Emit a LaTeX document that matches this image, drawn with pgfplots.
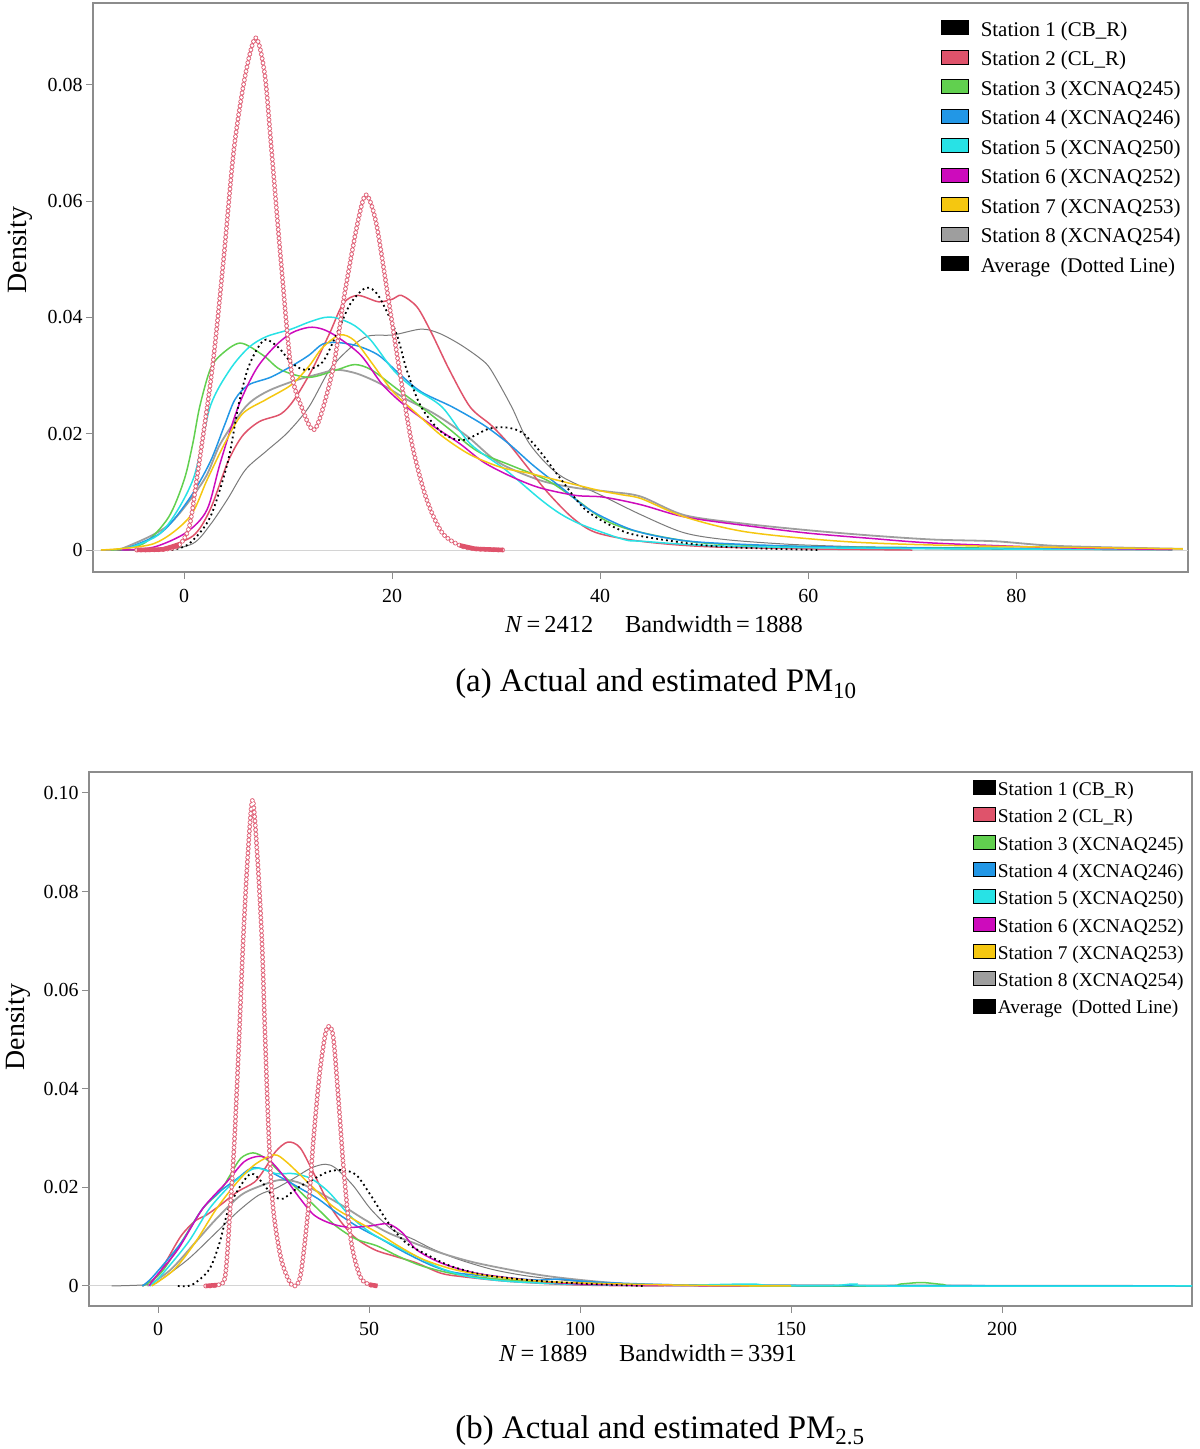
\documentclass[border=0pt]{standalone}
\usepackage{fontspec}
\setmainfont{Liberation Serif}
\usepackage{pgfplots}
\pgfplotsset{compat=1.18}
\definecolor{c2}{HTML}{DF536B}
\definecolor{c3}{HTML}{61D04F}
\definecolor{c4}{HTML}{2297E6}
\definecolor{c5}{HTML}{28E2E5}
\definecolor{c6}{HTML}{CD0BBC}
\definecolor{c7}{HTML}{F5C710}
\definecolor{c8}{HTML}{9E9E9E}
\definecolor{dg}{HTML}{7A7A7A}
\definecolor{circ}{HTML}{E06479}
\definecolor{frame}{HTML}{8C8C8C}
\definecolor{zl}{HTML}{D4D4D4}
\pgfplotsset{
 dens/.style={
  scale only axis, axis line style={frame, line width=1.3bp},
  tick style={frame, line width=1bp}, major tick length=7bp, tick align=outside,
  xtick pos=bottom, ytick pos=left,
  ticklabel style={font=\fontsize{20}{24}\selectfont},
  /pgf/number format/assume math mode=true,
  scaled y ticks=false,
  legend cell align=left,
 },
 ln/.style={forget plot, smooth, tension=0.5, line width=1.5bp},
 ringo/.style={forget plot, smooth, tension=0.5, circ, line width=4.8bp, line cap=round, dash pattern=on 0bp off 4.4bp},
 ringi/.style={forget plot, smooth, tension=0.5, white, line width=3.3bp, line cap=round, dash pattern=on 0bp off 4.4bp},
 ringb/.style={forget plot, c2, line width=4.5bp, restrict y to domain=-1:0.0009, unbounded coords=jump},
}
\pgfplotstableread{
x y
-4.55 0
-2 0.0001
-0.5 0.0008
0.5 0.004
1.2 0.0119
2.7 0.031
3.8 0.050
4.8 0.069
5.9 0.0818
6.9 0.0881
7.76 0.0818
8.4 0.069
9.3 0.050
10.3 0.031
11.3 0.0246
12.6 0.0208
14.3 0.031
15.4 0.0437
16.7 0.0564
17.5 0.0611
18.45 0.0564
19.6 0.0437
20.7 0.031
21.9 0.0183
23.3 0.0088
24.8 0.003
26.5 0.0008
28 0.0002
30.7 0
}\circA
\pgfplotstableread{
x y
11.3 0
14 0.0002
15.9 0.0019
17.1 0.0156
18.1 0.0294
19.2 0.05
20.2 0.0705
21.3 0.0877
22.4 0.0986
23.5 0.0877
24.6 0.0705
25.4 0.05
26.3 0.0294
27.3 0.0156
29.2 0.0054
31.7 0.0002
33.7 0.0019
35.6 0.0156
36.8 0.0294
38.3 0.0431
39.7 0.0513
40.6 0.0527
41.6 0.05
42.9 0.0362
44.1 0.0225
45.8 0.0088
47.9 0.0019
50 0.0003
52 0
}\circB
\begin{document}
\begin{tikzpicture}
\path[use as bounding box] (0,0) rectangle (1200bp,1449bp);
% ---------------- (a) PM10 ----------------
\begin{axis}[dens, at={(93bp,877bp)}, anchor=south west, width=1095bp, height=569bp,
  xmin=-8.75, xmax=96.5, ymin=-0.00378, ymax=0.0941,
  xtick={0,20,40,60,80}, ytick={0,0.02,0.04,0.06,0.08}, yticklabels={0,0.02,0.04,0.06,0.08},
  xticklabel style={yshift=-7bp},
  legend style={at={(0.7744,0.970)}, anchor=north west, draw=none, fill=none, inner sep=0pt,
    row sep=12.1bp, font=\fontsize{21}{25}\selectfont, nodes={inner sep=0pt}},
  legend image code/.code={\draw[#1, draw=black, line width=0.8bp] (0bp,-5bp) rectangle (27bp,9bp); \path (39bp,0bp);},
]
\addplot[forget plot, zl, line width=1bp] coordinates {(-20,0) (120,0)};
% Station 1 (dark grey thin)
\addplot[ln, dg, line width=1bp] coordinates {(-8,0) (-2.2,0) (0.84,0.0011) (2.5,0.0043) (4.2,0.0088) (5.9,0.0138) (7.9,0.017) (9.95,0.0202) (12.0,0.0246) (14.0,0.031) (16.0,0.0348) (17.7,0.0368) (20.1,0.037) (22.8,0.038) (24.5,0.0373) (26.5,0.0354) (28.5,0.0329) (29.5,0.031) (31.5,0.0246) (33.2,0.0183) (36,0.013) (40,0.0095) (44,0.006) (48,0.003) (52,0.0018) (58,0.001) (64,0.0006) (72,0.0002) (95,0)};
% Station 8 (light grey)
\addplot[ln, c8, line width=1.8bp] coordinates {(-7,0) (-5.6,0.0005) (-1.5,0.0043) (1.9,0.012) (3.5,0.0183) (5.9,0.0246) (7.9,0.0272) (10.6,0.0291) (13.0,0.0303) (14.7,0.031) (16.7,0.0303) (19.1,0.0284) (21.4,0.0259) (24.1,0.0234) (27.2,0.0196) (30.2,0.0151) (34.2,0.012) (37.6,0.0107) (41.0,0.01) (43.9,0.0092) (48.1,0.006) (54,0.0045) (60,0.0034) (66,0.0025) (72,0.0018) (78,0.0015) (84,0.0007) (96,0.0002)};
% Station 2 actual (red)
\addplot[ln, c2] coordinates {(-4,0) (-2.2,0.0003) (0.84,0.0024) (2.5,0.0069) (4.2,0.0151) (5.6,0.0196) (7.25,0.0221) (9.3,0.0234) (10.6,0.0259) (12.3,0.031) (14.0,0.0373) (15.3,0.0424) (16.7,0.0438) (18.7,0.0427) (20.1,0.0432) (20.9,0.0438) (22.4,0.0418) (23.8,0.0373) (25.5,0.031) (27.5,0.0246) (29.5,0.0215) (31.2,0.0183) (32.9,0.0145) (34.9,0.01) (37.3,0.0056) (39.6,0.003) (43.9,0.0015) (50,0.0006) (60,0.0002) (70,0)};
% Station 3 (green)
\addplot[ln, c3] coordinates {(-7,0) (-3.9,0.0011) (-1.5,0.0056) (0,0.012) (0.84,0.0183) (1.5,0.0246) (2.5,0.031) (3.5,0.0335) (5.4,0.0356) (7.6,0.0335) (9.3,0.031) (12.0,0.0297) (14.7,0.031) (16.4,0.0319) (18.0,0.031) (20.4,0.0278) (22.8,0.0246) (25.5,0.0208) (28.2,0.017) (31.5,0.0145) (34.9,0.012) (37.6,0.0088) (40.6,0.005) (44,0.003) (50,0.0012) (60,0.0006) (80,0.0003) (95,0.0001)};
% Station 4 (blue)
\addplot[ln, c4] coordinates {(-6,0) (-2.2,0.003) (0.5,0.0088) (2.5,0.0151) (3.9,0.0215) (4.9,0.0259) (6.2,0.0284) (8.3,0.0297) (10.3,0.0316) (12.0,0.0335) (13.3,0.0354) (14.7,0.0357) (16.7,0.0351) (18.7,0.0335) (20.7,0.0303) (22.8,0.0272) (25.8,0.0246) (28.8,0.0215) (31.2,0.0183) (33.6,0.0145) (36.3,0.0107) (39.0,0.0069) (42.7,0.0037) (46,0.0022) (50,0.0013) (60,0.0006) (75,0.0003) (95,0.0001)};
% Station 5 (cyan)
\addplot[ln, c5] coordinates {(-6,0) (-2.2,0.003) (0.84,0.012) (2.5,0.0246) (4.4,0.031) (6.2,0.0348) (7.9,0.0367) (10.3,0.038) (12.0,0.0392) (13.5,0.040) (14.7,0.0399) (16.4,0.0386) (18.0,0.036) (20.1,0.031) (22.1,0.0278) (24.8,0.0246) (27.5,0.0183) (30.9,0.0138) (34.2,0.0088) (36.2,0.0062) (38.3,0.0043) (42.3,0.0018) (44.1,0.0015) (50,0.0008) (60,0.0004) (75,0.0002) (95,0.0001)};
% Station 6 (magenta)
\addplot[ln, c6] coordinates {(-6,0) (-2.9,0.0005) (0.2,0.003) (2.2,0.0069) (3.5,0.0151) (5.2,0.0246) (6.9,0.031) (8.6,0.0348) (10.3,0.0373) (12.0,0.0383) (13.3,0.038) (14.7,0.0367) (17.0,0.0335) (19.1,0.0284) (21.4,0.0246) (23.8,0.0215) (26.5,0.0183) (28.8,0.0151) (31.5,0.0126) (34.2,0.0107) (37.6,0.0094) (40.3,0.0091) (43.9,0.0078) (48.1,0.0057) (54,0.0042) (60,0.0029) (66,0.002) (72,0.0012) (84,0.0004) (95,0.0001)};
% Station 7 (yellow)
\addplot[ln, c7] coordinates {(-8,0) (-2.9,0.0011) (0.5,0.0056) (2.2,0.012) (3.9,0.0183) (5.6,0.0234) (7.9,0.0259) (10.3,0.0284) (12.0,0.0316) (13.3,0.0348) (15.0,0.037) (16.4,0.036) (18.0,0.0323) (20.1,0.0272) (22.4,0.0234) (24.8,0.0196) (27.5,0.0164) (30.5,0.0142) (33.2,0.0132) (35.9,0.012) (40.0,0.0102) (42.1,0.0095) (44,0.0088) (48.1,0.0057) (54.1,0.0031) (64,0.0014) (76,0.0007) (96,0.0002)};
% Average (dotted)
\addplot[ln, black, line width=1.8bp, dash pattern=on 1.8bp off 3.2bp] coordinates {(-1.2,0) (0.5,0.0011) (2.5,0.0056) (4.2,0.0151) (5.2,0.0246) (6.1,0.031) (7.1,0.0348) (7.9,0.0362) (9.1,0.0348) (10.3,0.0323) (11.6,0.031) (13.3,0.0323) (14.7,0.0373) (16.0,0.0424) (17.5,0.0451) (18.7,0.0437) (20.4,0.0373) (21.4,0.031) (22.8,0.0246) (24.8,0.0202) (26.8,0.0189) (29.2,0.0208) (30.9,0.0211) (32.5,0.0202) (34.2,0.017) (36.3,0.012) (38.6,0.0069) (41.6,0.0037) (43.9,0.0024) (50,0.0008) (55,0.0003) (61,0)};
% Station 2 estimated (rings)
\addplot[ringo] table {\circA};
\addplot[ringi] table {\circA};
\addplot[ringb] table {\circA};
\addlegendimage{fill=black}\addlegendentry{Station 1 (CB\_R)}
\addlegendimage{fill=c2}\addlegendentry{Station 2 (CL\_R)}
\addlegendimage{fill=c3}\addlegendentry{Station 3 (XCNAQ245)}
\addlegendimage{fill=c4}\addlegendentry{Station 4 (XCNAQ246)}
\addlegendimage{fill=c5}\addlegendentry{Station 5 (XCNAQ250)}
\addlegendimage{fill=c6}\addlegendentry{Station 6 (XCNAQ252)}
\addlegendimage{fill=c7}\addlegendentry{Station 7 (XCNAQ253)}
\addlegendimage{fill=c8}\addlegendentry{Station 8 (XCNAQ254)}
\addlegendimage{fill=black}\addlegendentry{Average\ \ (Dotted Line)}
\end{axis}
\node[anchor=base, font=\fontsize{24.5}{29}\selectfont] at (654bp,816bp) {\textit{N}\,=\,2412\hspace{1.3em}Bandwidth\,=\,1888};
\node[anchor=base, font=\fontsize{33}{40}\selectfont] at (656bp,757bp) {(a) Actual and estimated PM\textsubscript{10}};
\node[rotate=90, anchor=base, font=\fontsize{28}{34}\selectfont] at (26bp,1199bp) {Density};
% ---------------- (b) PM2.5 ----------------
\begin{axis}[dens, at={(89bp,143bp)}, anchor=south west, width=1103bp, height=534bp,
  xmin=-16.35, xmax=245, ymin=-0.00406, ymax=0.10426,
  xtick={0,50,100,150,200}, ytick={0,0.02,0.04,0.06,0.08,0.10}, yticklabels={0,0.02,0.04,0.06,0.08,0.10},
  xticklabel style={yshift=-6bp},
  legend style={at={(0.8015,0.985)}, anchor=north west, draw=none, fill=none, inner sep=0pt,
    row sep=10.4bp, font=\fontsize{19.5}{23}\selectfont, nodes={inner sep=0pt}},
  legend image code/.code={\draw[#1, draw=black, line width=0.8bp] (0bp,-5bp) rectangle (22bp,9bp); \path (24bp,0bp);},
]
\addplot[forget plot, zl, line width=1bp] coordinates {(-20,0) (260,0)};
% Station 1 (dark grey)
\addplot[ln, dg, line width=1bp] coordinates {(-11,0) (-2,0.0003) (0.5,0.0012) (7.1,0.0054) (13,0.0102) (18.8,0.015) (23.8,0.0184) (27.9,0.0198) (32.1,0.0218) (36.2,0.0239) (39.6,0.0247) (42.1,0.0239) (46.2,0.0204) (50.4,0.0156) (55.4,0.0115) (60.4,0.0095) (65.3,0.0074) (71.2,0.0054) (79.5,0.0033) (88.6,0.0019) (100.2,0.0009) (120,0.0002) (140,0) (245,0)};
% Station 8 (light grey)
\addplot[ln, c8, line width=1.8bp] coordinates {(-2.5,0) (3.0,0.0033) (8.8,0.0088) (13.8,0.0136) (19.6,0.0184) (24.6,0.0204) (28.8,0.0215) (32.9,0.0211) (37.9,0.0191) (43.7,0.0163) (48.7,0.0136) (54.5,0.0108) (60.4,0.0088) (67,0.0067) (75.3,0.0047) (87.8,0.0026) (96.1,0.0016) (108.6,0.0006) (125,0.0002) (245,0)};
% Station 2 actual (red)
\addplot[ln, c2] coordinates {(-3.7,0) (-0.3,0.0019) (2.2,0.0054) (5.5,0.0102) (8.8,0.0132) (11.3,0.0143) (14.6,0.0163) (18.8,0.0191) (22.9,0.0211) (25.4,0.0239) (27.9,0.0273) (30.8,0.0292) (33.7,0.028) (37.1,0.0225) (41.2,0.0156) (46.2,0.0102) (51.2,0.0074) (56.2,0.006) (61.2,0.0047) (67,0.0026) (72,0.0019) (83.6,0.0009) (100,0.0002) (120,0)};
% Station 3 (green)
\addplot[ln, c3] coordinates {(-3.7,0) (-1.2,0.0012) (1.3,0.0033) (5.5,0.0088) (10.5,0.0156) (14.6,0.0191) (17.1,0.0225) (19.6,0.0259) (22.5,0.027) (25.4,0.0259) (29.6,0.0225) (33.7,0.0191) (37.9,0.0156) (42.1,0.0122) (47.0,0.0095) (52,0.0081) (57,0.006) (62.8,0.004) (71.2,0.0023) (83.6,0.0012) (100,0.0005) (120,0.0001) (170,0) (176,0.0004) (181,0.0007) (186,0.0003) (192,0) (245,0)};
% Station 4 (blue)
\addplot[ln, c4] coordinates {(-3.7,0) (-1.2,0.0019) (5.5,0.0088) (10.5,0.0156) (14.6,0.0191) (18.8,0.0218) (22.1,0.0239) (25.4,0.0236) (29.6,0.0218) (33.7,0.0198) (37.9,0.0177) (42.1,0.015) (47,0.0122) (52.9,0.0095) (58.7,0.0067) (65.3,0.004) (71.2,0.0026) (83.6,0.0016) (90,0.0012) (95,0.0014) (100,0.001) (108.6,0.0006) (125,0.0002) (150,0.0001) (245,0)};
% Station 5 (cyan)
\addplot[ln, c5] coordinates {(-2,0) (0.5,0.0019) (7.1,0.0088) (12.1,0.0156) (17.1,0.0204) (21.3,0.0232) (23.8,0.0239) (27.9,0.0228) (32.1,0.0228) (36.2,0.0218) (40.4,0.0191) (45.4,0.0143) (50.4,0.0108) (56.2,0.0081) (61.2,0.006) (67,0.0036) (73.6,0.0019) (83.6,0.0009) (100,0.0003) (120,0.0001) (140,0.0004) (145,0.0001) (160,0.0001) (165,0.0004) (172,0) (245,0)};
% Station 6 (magenta)
\addplot[ln, c6] coordinates {(-2,0) (-1.2,0.0012) (4.7,0.0074) (10.5,0.0156) (16.3,0.0211) (20.4,0.0252) (23.8,0.0263) (26.3,0.0256) (29.6,0.0225) (33.7,0.0177) (37.1,0.0143) (41.2,0.0126) (45.4,0.0119) (50.4,0.0122) (54.5,0.0126) (57.9,0.0108) (61.2,0.0074) (67,0.0047) (75.3,0.0026) (87.8,0.0012) (100,0.0004) (120,0.0001) (140,0)};
% Station 7 (yellow)
\addplot[ln, c7] coordinates {(-1.5,0) (3.8,0.0033) (8.8,0.0088) (13.8,0.0156) (18.8,0.0211) (22.9,0.0246) (27.5,0.0266) (30.4,0.0252) (35.4,0.0211) (41.2,0.0163) (46.2,0.0136) (52,0.0108) (57,0.0081) (62.8,0.0054) (70.3,0.0033) (79.5,0.0019) (92,0.0009) (110,0.0004) (130,0.0001) (150,0)};
% Average (dotted)
\addplot[ln, black, line width=1.8bp, dash pattern=on 1.8bp off 3.2bp] coordinates {(4.7,0) (8,0.0002) (12.1,0.0033) (14.6,0.0088) (16.7,0.0156) (19.6,0.0204) (22.1,0.0228) (24.6,0.0211) (27.1,0.0184) (29.6,0.0177) (32.9,0.0198) (37.1,0.0218) (40.4,0.0232) (43.7,0.0235) (47,0.0225) (50.4,0.0184) (54.5,0.0129) (58.7,0.0088) (64.5,0.006) (69.5,0.004) (77,0.0023) (87.8,0.0012) (100,0.0005) (115,0)};
% Station 2 estimated (rings)
\addplot[ringo] table {\circB};
\addplot[ringi] table {\circB};
\addplot[ringb] table {\circB};
\addlegendimage{fill=black}\addlegendentry{Station 1 (CB\_R)}
\addlegendimage{fill=c2}\addlegendentry{Station 2 (CL\_R)}
\addlegendimage{fill=c3}\addlegendentry{Station 3 (XCNAQ245)}
\addlegendimage{fill=c4}\addlegendentry{Station 4 (XCNAQ246)}
\addlegendimage{fill=c5}\addlegendentry{Station 5 (XCNAQ250)}
\addlegendimage{fill=c6}\addlegendentry{Station 6 (XCNAQ252)}
\addlegendimage{fill=c7}\addlegendentry{Station 7 (XCNAQ253)}
\addlegendimage{fill=c8}\addlegendentry{Station 8 (XCNAQ254)}
\addlegendimage{fill=black}\addlegendentry{Average\ \ (Dotted Line)}
\end{axis}
\node[anchor=base, font=\fontsize{24.5}{29}\selectfont] at (648bp,87bp) {\textit{N}\,=\,1889\hspace{1.3em}Bandwidth\,=\,3391};
\node[anchor=base, font=\fontsize{33}{40}\selectfont] at (660bp,11bp) {(b) Actual and estimated PM\textsubscript{2.5}};
\node[rotate=90, anchor=base, font=\fontsize{28}{34}\selectfont] at (24bp,422bp) {Density};
\end{tikzpicture}
\end{document}
